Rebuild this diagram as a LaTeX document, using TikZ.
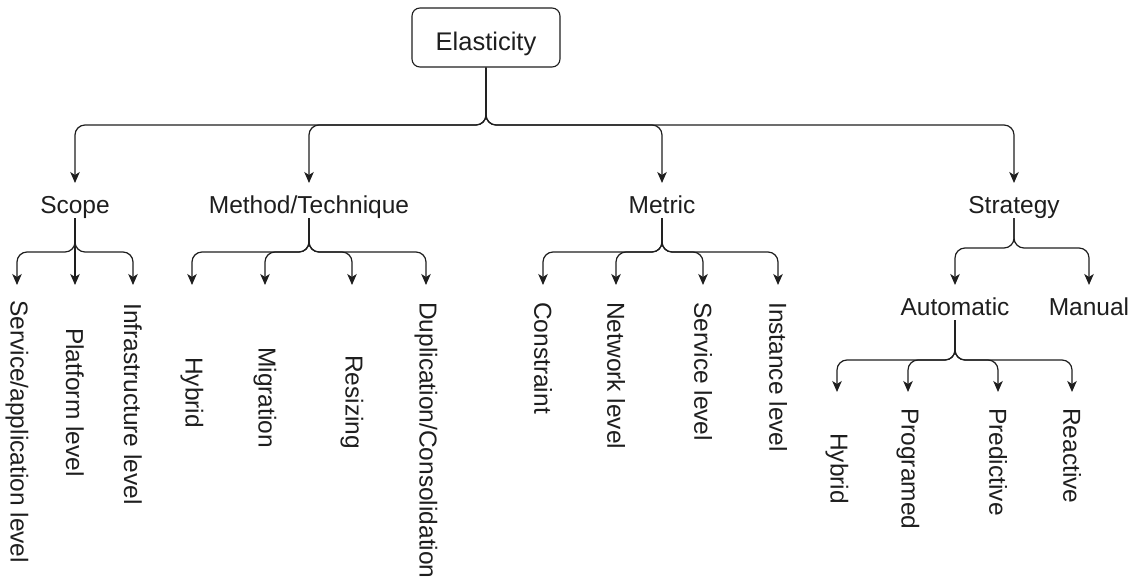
\documentclass[tikz,border=0pt]{standalone}
\usepackage{fontspec}
\setmainfont{Liberation Sans}
\usetikzlibrary{arrows.meta}
\definecolor{ink}{RGB}{30,30,30}
\begin{document}
\begin{tikzpicture}[x=1pt,y=-1pt,
  every node/.style={font=\fontsize{24.5}{29}\selectfont, text=ink},
  rootbox/.style={draw=ink, line width=1.1pt, rounded corners=8pt,
    minimum width=148pt, minimum height=59pt, inner sep=0pt,
    font=\fontsize{25.5}{30}\selectfont, text height=27pt, text depth=0pt},
  label/.style={inner sep=0pt, anchor=base},
  leaf/.style={inner sep=0pt, rotate=-90, anchor=west},
  conn/.style={draw=ink, line width=1.2pt, rounded corners=10pt,
    -{Stealth[length=11pt,width=9.5pt,inset=3pt]}}]
\useasboundingbox (0,0) rectangle (1132,578);

% root
\node[rootbox] (root) at (486,37.5) {Elasticity};

% first level
\node[label] (scope)    at (75,213)   {Scope};
\node[label] (method)   at (309,213)  {Method/Technique};
\node[label] (metric)   at (662,213)  {Metric};
\node[label] (strategy) at (1014,213) {Strategy};

% scope children
\node[leaf] (svc)   at (17,300)  {Service/application level};
\node[leaf] (plat)  at (75,328)  {Platform level};
\node[leaf] (infra) at (133,303) {Infrastructure level};

% method children
\node[leaf] (mhyb) at (192,357) {Hybrid};
\node[leaf] (mig)  at (265,347) {Migration};
\node[leaf] (res)  at (352,355) {Resizing};
\node[leaf] (dup)  at (426,302) {Duplication/Consolidation};

% metric children
\node[leaf] (cons) at (543,302) {Constraint};
\node[leaf] (net)  at (616,302) {Network level};
\node[leaf] (serv) at (703,302) {Service level};
\node[leaf] (inst) at (778,302) {Instance level};

% strategy children
\node[label] (auto)   at (955,315)  {Automatic};
\node[label] (manual) at (1089,315) {Manual};

% automatic children
\node[leaf] (shyb) at (837,433) {Hybrid};
\node[leaf] (prog) at (908,408) {Programed};
\node[leaf] (pred) at (998,408) {Predictive};
\node[leaf] (reac) at (1072,408) {Reactive};

% bus junctions
\coordinate (jroot)     at (486,125);
\coordinate (jscope)    at (75,252);
\coordinate (jmethod)   at (309,252);
\coordinate (jmetric)   at (662,252);
\coordinate (jstrategy) at (1014,248);
\coordinate (jauto)     at (955,360);

% root -> first level
\foreach \c in {scope,method,metric,strategy}
  \draw[conn] (root.south) -- (jroot) -| ([yshift=30pt]\c.base);

% scope
\draw[conn] ([yshift=-5pt]scope.base) -- (jscope) -| ([yshift=15pt]svc.west);
\draw[conn] ([yshift=-5pt]scope.base) -- ([yshift=43pt]plat.west);
\draw[conn] ([yshift=-5pt]scope.base) -- (jscope) -| ([yshift=18pt]infra.west);

% method
\draw[conn] ([yshift=-5pt]method.base) -- (jmethod) -| ([yshift=72pt]mhyb.west);
\draw[conn] ([yshift=-5pt]method.base) -- (jmethod) -| ([yshift=62pt]mig.west);
\draw[conn] ([yshift=-5pt]method.base) -- (jmethod) -| ([yshift=70pt]res.west);
\draw[conn] ([yshift=-5pt]method.base) -- (jmethod) -| ([yshift=17pt]dup.west);

% metric
\draw[conn] ([yshift=-5pt]metric.base) -- (jmetric) -| ([yshift=17pt]cons.west);
\draw[conn] ([yshift=-5pt]metric.base) -- (jmetric) -| ([yshift=17pt]net.west);
\draw[conn] ([yshift=-5pt]metric.base) -- (jmetric) -| ([yshift=17pt]serv.west);
\draw[conn] ([yshift=-5pt]metric.base) -- (jmetric) -| ([yshift=17pt]inst.west);

% strategy
\draw[conn] ([yshift=-5pt]strategy.base) -- (jstrategy) -| ([yshift=30pt]auto.base);
\draw[conn] ([yshift=-5pt]strategy.base) -- (jstrategy) -| ([yshift=30pt]manual.base);

% automatic
\draw[conn] ([yshift=-5pt]auto.base) -- (jauto) -| ([yshift=41pt]shyb.west);
\draw[conn] ([yshift=-5pt]auto.base) -- (jauto) -| ([yshift=16pt]prog.west);
\draw[conn] ([yshift=-5pt]auto.base) -- (jauto) -| ([yshift=16pt]pred.west);
\draw[conn] ([yshift=-5pt]auto.base) -- (jauto) -| ([yshift=16pt]reac.west);
\end{tikzpicture}
\end{document}
